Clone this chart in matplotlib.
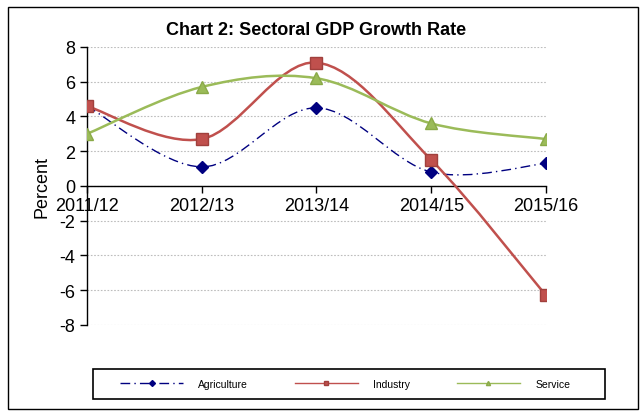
import matplotlib.pyplot as plt
from matplotlib.path import Path
from matplotlib.patches import PathPatch, Rectangle
from matplotlib.lines import Line2D

years = ['2011/12', '2012/13', '2013/14', '2014/15', '2015/16']
agriculture = [4.6, 1.1, 4.5, 0.8, 1.3]
industry = [4.6, 2.7, 7.1, 1.5, -6.3]
service = [3.0, 5.7, 6.2, 3.6, 2.7]

plt.rcParams['font.family'] = ['Liberation Sans', 'DejaVu Sans']
plt.rcParams['axes.unicode_minus'] = False


def smooth_path(xs, ys):
    # excel style smoothed line: cubic bezier through each point
    pts = list(zip(xs, ys))
    ext = [pts[0]] + pts + [pts[-1]]
    verts = [pts[0]]
    codes = [Path.MOVETO]
    for i in range(1, len(ext) - 2):
        p0, p1, p2, p3 = ext[i - 1], ext[i], ext[i + 1], ext[i + 2]
        c1 = (p1[0] + (p2[0] - p0[0]) / 6, p1[1] + (p2[1] - p0[1]) / 6)
        c2 = (p2[0] - (p3[0] - p1[0]) / 6, p2[1] - (p3[1] - p1[1]) / 6)
        verts += [c1, c2, p2]
        codes += [Path.CURVE4] * 3
    return Path(verts, codes)


fig = plt.figure(figsize=(6.43, 4.14), dpi=100)
ax = fig.add_axes([0.1353, 0.2126, 0.7138, 0.6715])

# outer chart border and legend box
fig.patches.append(Rectangle((0.0124, 0.0097), 0.98, 0.971, transform=fig.transFigure,
                             fill=False, edgecolor='black', linewidth=1.0))
fig.patches.append(Rectangle((0.1446, 0.034), 0.7964, 0.072, transform=fig.transFigure,
                             fill=False, edgecolor='black', linewidth=1.2))

x = list(range(len(years)))
series = [
    ('Agriculture', agriculture, '#000080', (0, (7, 3, 1, 3)), 'D', '#000080', '#000080', 6.5),
    ('Industry', industry, '#C0504D', '-', 's', '#C0504D', '#A0403D', 9),
    ('Service', service, '#9BBB59', '-', '^', '#9BBB59', '#8AAA48', 8),
]

handles = []
for name, vals, col, ls, mk, mfc, mec, ms in series:
    patch = PathPatch(smooth_path(x, vals), facecolor='none', edgecolor=col,
                      linewidth=1.8 if ls == '-' else 1.0, linestyle=ls, zorder=3)
    ax.add_patch(patch)
    ax.plot(x, vals, linestyle='none', marker=mk, markersize=ms,
            markerfacecolor=mfc, markeredgecolor=mec, zorder=4)
    handles.append(Line2D([0], [0], color=col, linestyle=ls, linewidth=1.0,
                          marker=mk, markersize=3, markerfacecolor=mfc, markeredgecolor=mec))

ax.set_xlim(0, 4)
ax.set_ylim(-8, 8)
ax.set_yticks(range(-8, 9, 2))
ax.set_xticks(x)
ax.set_xticklabels(years)
ax.yaxis.grid(True, color='#bdbdbd', linestyle=(0, (1.5, 1.5)), linewidth=0.8)
ax.set_axisbelow(True)

for s in ['top', 'right']:
    ax.spines[s].set_visible(False)
ax.spines['bottom'].set_position(('data', 0))
ax.spines['left'].set_linewidth(1.0)
ax.spines['bottom'].set_linewidth(1.0)
ax.tick_params(axis='both', direction='out', length=5, width=1.0, labelsize=13)
ax.tick_params(axis='x', pad=3)

ax.set_ylabel('Percent', fontsize=13, labelpad=6)
ax.set_title('Chart 2: Sectoral GDP Growth Rate', fontsize=13, fontweight='bold', pad=9)

fig.legend(handles, [s[0] for s in series], loc='center',
           bbox_to_anchor=(0.537, 0.07), ncol=3,
           fontsize=7.5, frameon=False, handlelength=6, columnspacing=4.5,
           handletextpad=1.5)

fig.savefig('out.png', dpi=100)
